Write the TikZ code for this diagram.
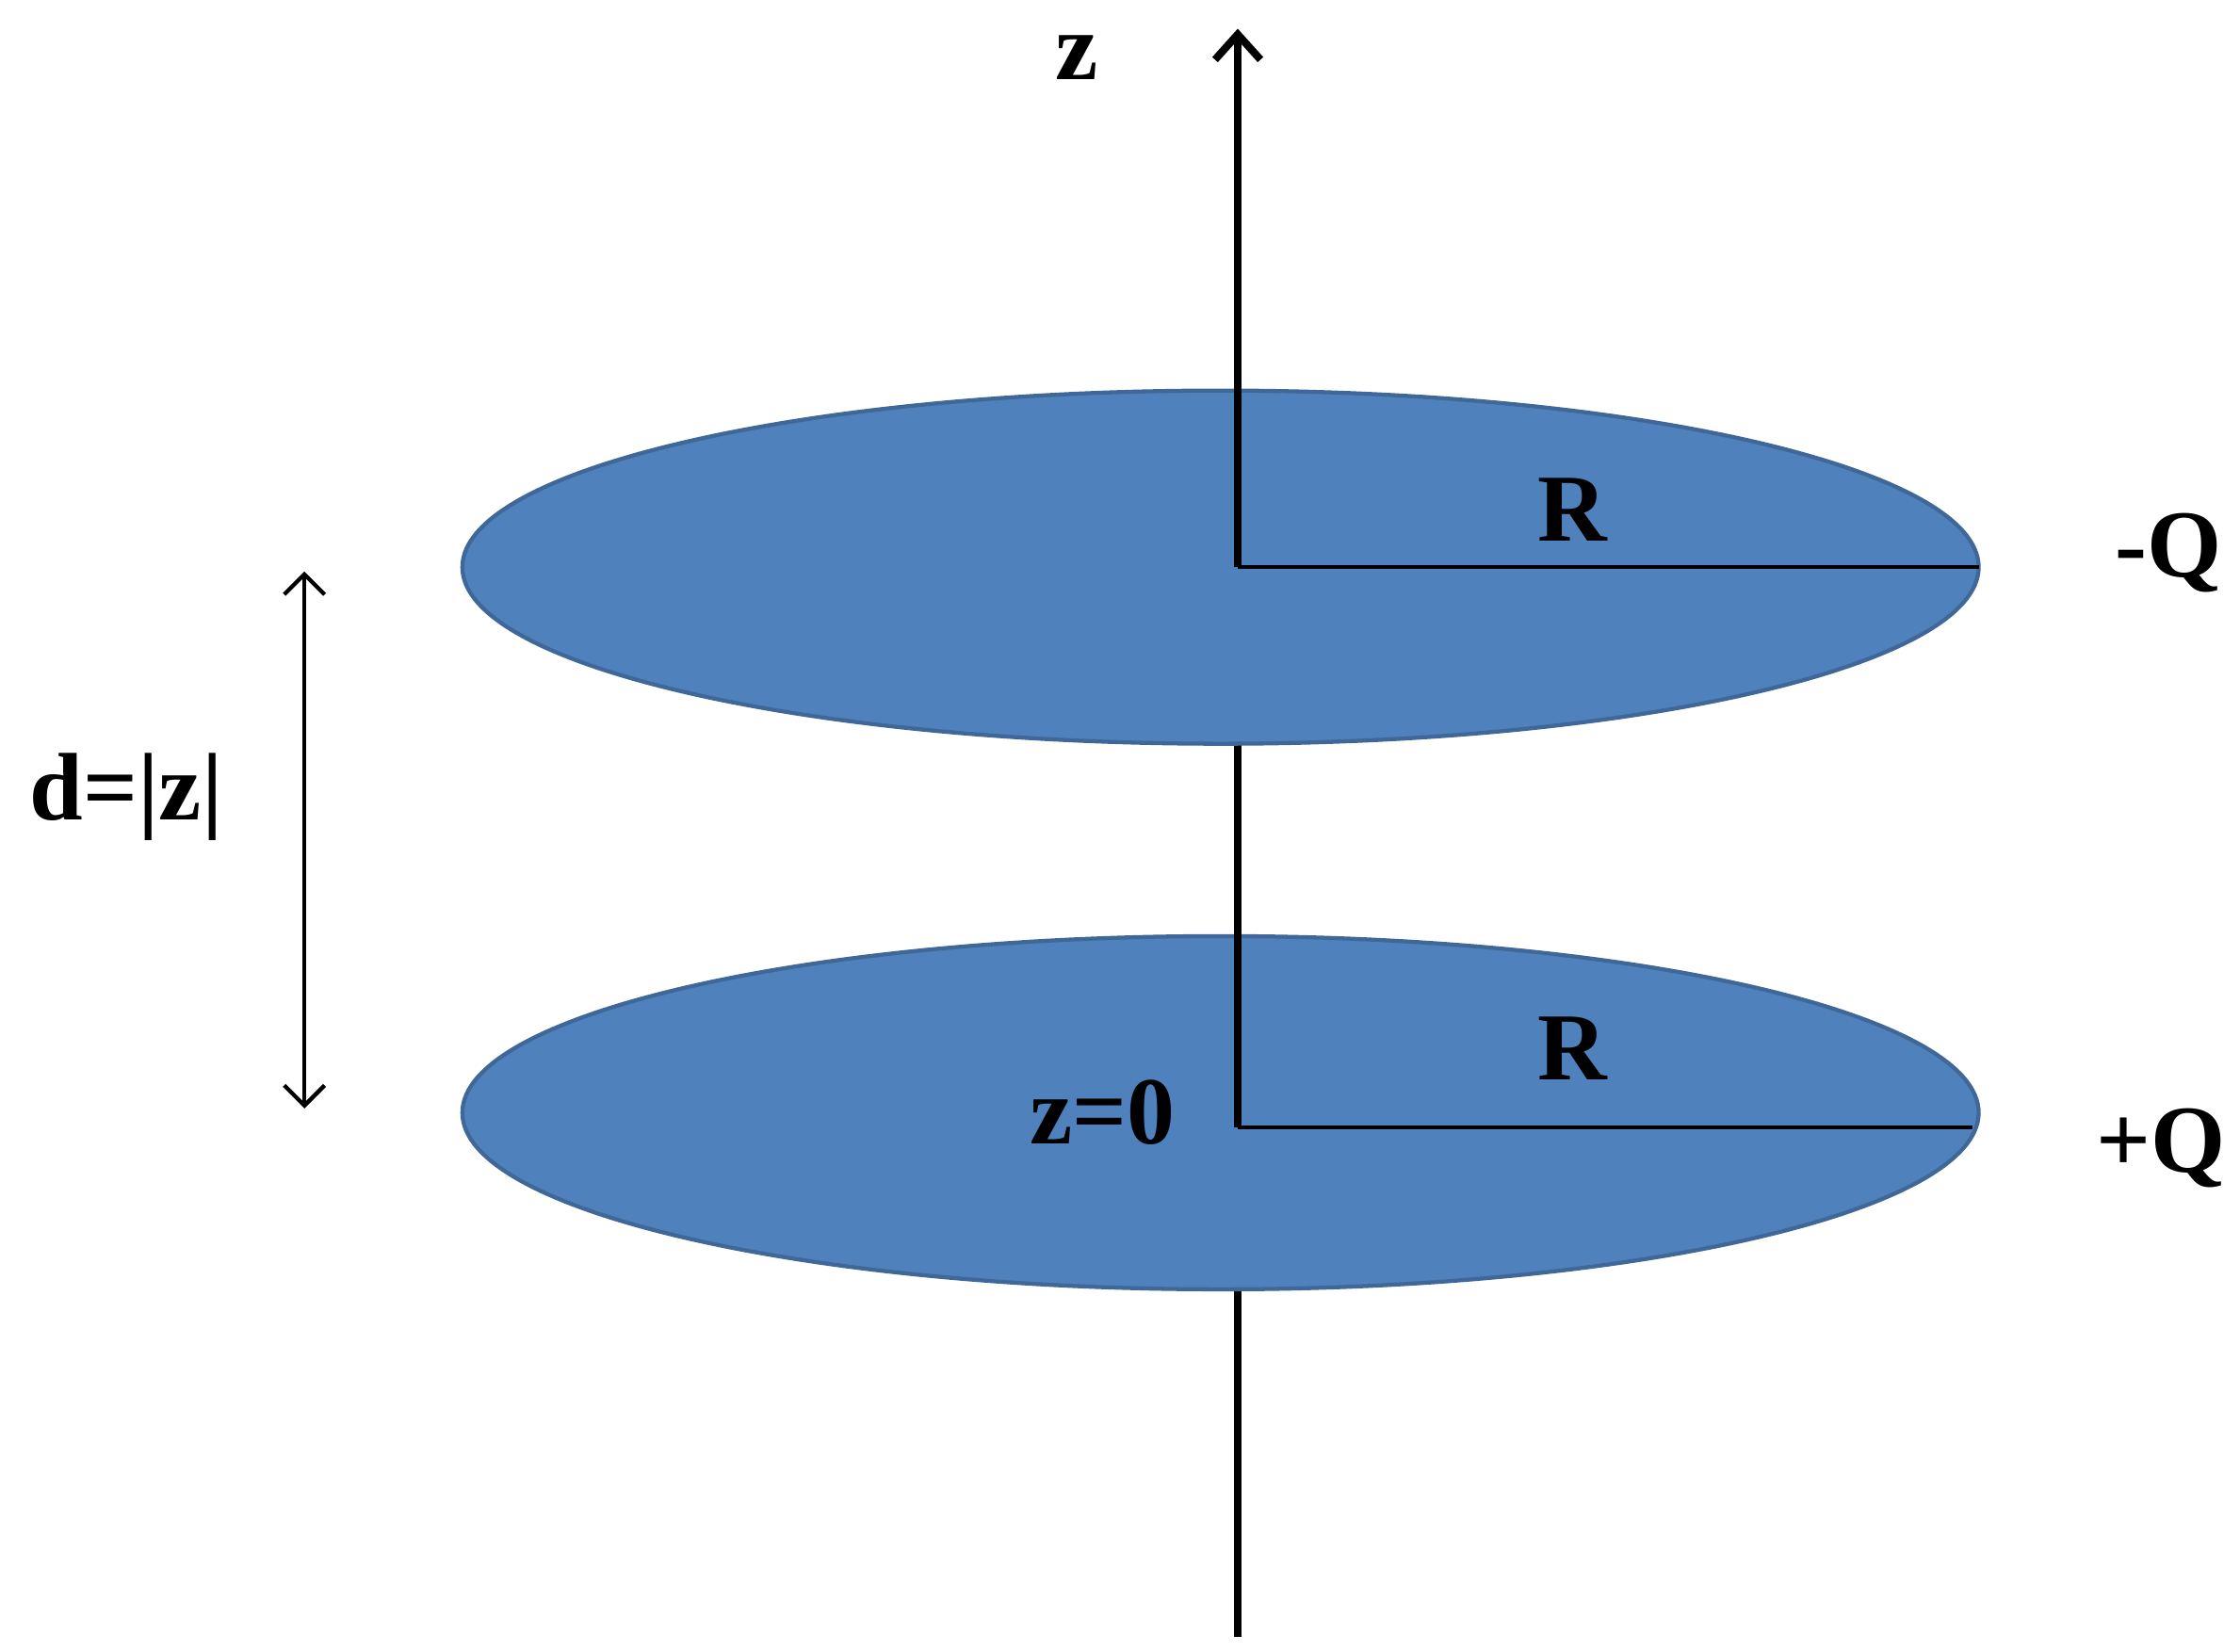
\documentclass[tikz,border=0pt]{standalone}
\usepackage{fontspec}
\setmainfont{Liberation Serif}
\usetikzlibrary{arrows.meta}
\definecolor{disk}{HTML}{4F81BD}
\definecolor{diskedge}{HTML}{3F6797}
\begin{document}
\begin{tikzpicture}[x=0.01cm,y=-0.01cm,
  plate/.style={fill=disk,draw=diskedge,line width=0.8pt},
  axis/.style={line width=1.5pt},
  thin/.style={line width=0.8pt},
  lab/.style={font=\fontsize{19}{22}\selectfont\bfseries,inner sep=0pt}]
\useasboundingbox (0,0) rectangle (1560,1150);
\coordinate (bot) at (862,1140);
\coordinate (b1) at (862,898);
\draw[axis] (bot) -- (b1);
\draw[plate] (850,775) ellipse [x radius=528, y radius=123];
\coordinate (c2) at (862,785);
\coordinate (t2) at (862,518);
\draw[axis] (c2) -- (t2);
\draw[plate] (850,395) ellipse [x radius=528, y radius=123];
\coordinate (c1) at (862,395);
\coordinate (top) at (862,20);
\draw[axis,-{Straight Barb[length=5pt,width=9pt,line width=1.5pt]}] (c1) -- (top);
\coordinate (r1) at (1378,395);
\coordinate (r2) at (1374,785);
\draw[thin] (c1) -- (r1);
\draw[thin] (c2) -- (r2);
\coordinate (d1) at (212,398);
\coordinate (d2) at (212,772);
\draw[thin,{Straight Barb[length=4pt,width=8pt]}-{Straight Barb[length=4pt,width=8pt]}] (d1) -- (d2);
\node[lab] (R1) at (1095,355) {R};
\node[lab] (R2) at (1095,730) {R};
\node[lab] (mq) at (1510,385) {-Q};
\node[lab] (pq) at (1505,800) {+Q};
\node[lab] (z) at (750,40) {z};
\node[lab] (z0) at (768,775) {z=0};
\node[lab] (d) at (88,555) {d=|z|};
\end{tikzpicture}
\end{document}
